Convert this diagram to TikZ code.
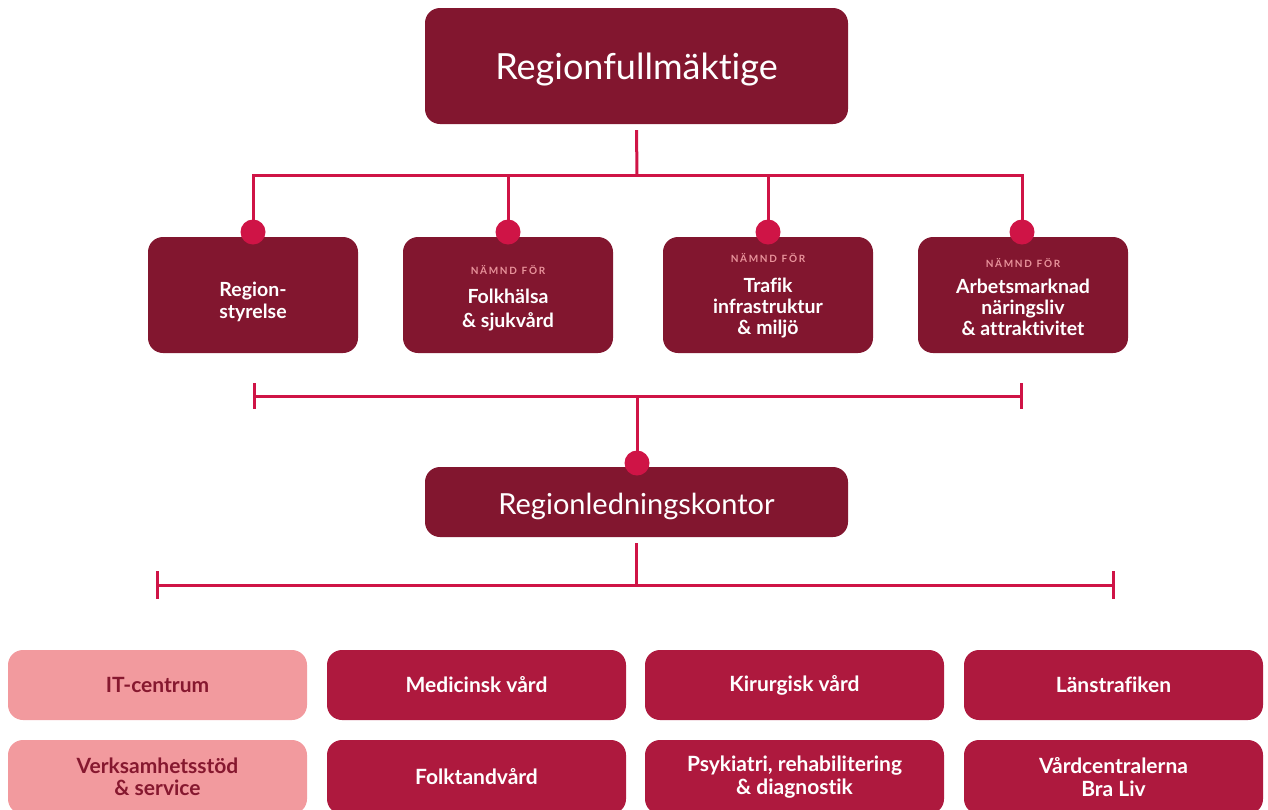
\documentclass[tikz,border=0pt]{standalone}
\usepackage{fontspec}
\setmainfont{Lato}[Ligatures=NoCommon]
\usetikzlibrary{calc}
\definecolor{maroon}{HTML}{82162F}
\definecolor{crim}{HTML}{CF1446}
\definecolor{boxred}{HTML}{AE193E}
\definecolor{pinkbox}{HTML}{F29A9E}
\definecolor{pinktxt}{HTML}{E8939B}
\definecolor{darktxt}{HTML}{86182F}
\tikzset{
  mainbox/.style={fill=maroon, rounded corners=15pt, minimum width=423pt, inner sep=0pt},
  maintxt/.style={text=white, inner sep=0pt, align=center},
  midbox/.style={fill=maroon, rounded corners=15pt, minimum width=210pt, minimum height=116pt, inner sep=0pt},
  midtxt/.style={text=white, align=center, inner sep=0pt, font=\bfseries\fontsize{19.5}{21}\selectfont},
  redbox/.style={fill=boxred, text=white, rounded corners=15pt, minimum width=299pt, minimum height=70pt, align=center, inner sep=0pt, font=\bfseries\fontsize{21}{22.5}\selectfont},
  pbox/.style={fill=pinkbox, text=darktxt, rounded corners=15pt, minimum width=299pt, minimum height=70pt, align=center, inner sep=0pt, font=\bfseries\fontsize{21}{22.5}\selectfont},
  conn/.style={draw=crim, line width=3pt},
  dot/.style={circle, fill=crim, minimum size=25pt, inner sep=0pt},
  tick/.style={draw=crim, line width=3pt},
}
\newcommand{\namnd}{{\color{pinktxt}\fontsize{10}{12}\selectfont\bfseries N\,Ä\,M\,N\,D\ \ F\,Ö\,R}}
\begin{document}
\begin{tikzpicture}[x=1pt,y=-1pt]
\useasboundingbox (0,0) rectangle (1268,809);
\clip (0,0) rectangle (1268,809);
% top
\node[mainbox, minimum height=116pt] (rf) at (636.5,66) {};
\node[maintxt, font=\fontsize{36}{40}\selectfont] (rf-t) at ($(rf.center)+(0,4)$) {Regionfullmäktige};
% mid row
\node[midbox] (rs) at (253,295) {};
\node[midbox] (fh) at (508,295) {};
\node[midbox] (tr) at (768,295) {};
\node[midbox] (ar) at (1023,295) {};
\node[midtxt] (rs-t) at ($(rs.center)+(0,7)$) {Region-\\[1.5pt]styrelse};
\node[midtxt] (fh-t) at ($(fh.center)+(0,3)$) {\namnd\\[8pt]Folkhälsa\\[3pt]\& sjukvård};
\node[midtxt] (tr-t) at ($(tr.center)+(0,1)$) {\namnd\\[9pt]Trafik\\infrastruktur\\\& miljö};
\node[midtxt] (ar-t) at ($(ar.center)+(0,2)$) {\namnd\\[5pt]Arbetsmarknad\\näringsliv\\\& attraktivitet};
% dots
\node[dot] (d1) at (253,232) {};
\node[dot] (d2) at (508,232) {};
\node[dot] (d3) at (768,232) {};
\node[dot] (d4) at (1022,232) {};
\coordinate (hb) at (637,175);
\draw[conn] ($(rf.south)+(0,6)$) -- (hb);
\draw[conn] (d1.center) |- (hb) -| (d4.center);
\draw[conn] (d2.center) -- (d2.center |- hb);
\draw[conn] (d3.center) -- (d3.center |- hb);
% bracket 1
\coordinate (b1l) at (254,396);
\coordinate (b1r) at (1021,396);
\draw[conn] (b1l) -- (b1r);
\draw[tick] ($(b1l)+(0,-13)$) -- ($(b1l)+(0,13)$);
\draw[tick] ($(b1r)+(0,-13)$) -- ($(b1r)+(0,13)$);
% regionledningskontor
\node[mainbox, minimum height=70pt] (rl) at (636.5,502) {};
\node[maintxt, font=\fontsize{29}{34}\selectfont] (rl-t) at ($(rl.center)+(0,4)$) {Regionledningskontor};
\node[dot] (d5) at (637,463) {};
\draw[conn] (d5.center) -- (d5.center |- b1l);
% bracket 2
\coordinate (b2l) at (157,585);
\coordinate (b2r) at (1113,585);
\draw[conn] ($(rl.south)+(0,6)$) -- (rl.south |- b2l);
\draw[conn] (b2l) -- (b2r);
\draw[tick] ($(b2l)+(0,-14)$) -- ($(b2l)+(0,14)$);
\draw[tick] ($(b2r)+(0,-14)$) -- ($(b2r)+(0,14)$);
% bottom boxes
\node[pbox] (it) at (157.5,685) {IT-centrum};
\node[redbox] (mv) at (476.5,685) {Medicinsk vård};
\node[redbox] (kv) at (794.5,685) {Kirurgisk vård};
\node[redbox] (lt) at (1113.5,685) {Länstrafiken};
\node[pbox, minimum height=74pt] (vs) at (157.5,777) {Verksamhetsstöd\\\& service};
\node[redbox, minimum height=74pt] (ft) at (476.5,777) {Folktandvård};
\node[redbox, minimum height=74pt] (pr) at (794.5,777) {Psykiatri, rehabilitering\\\& diagnostik};
\node[redbox, minimum height=74pt] (vc) at (1113.5,777) {Vårdcentralerna\\Bra Liv};
\end{tikzpicture}
\end{document}
